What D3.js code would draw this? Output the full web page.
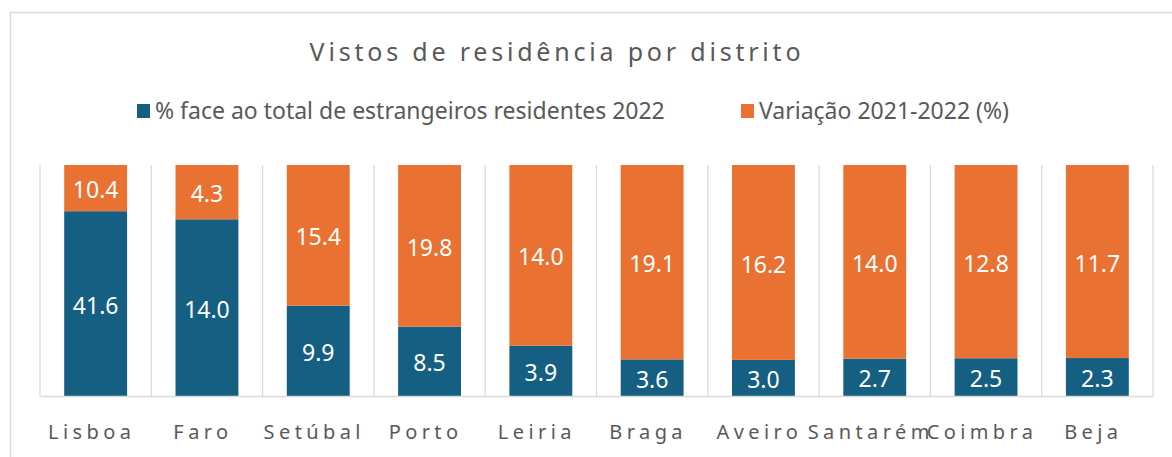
<!DOCTYPE html>
<html>
<head>
<meta charset="utf-8">
<script src="https://cdn.jsdelivr.net/npm/d3@7"></script>
<style>
  body { margin: 0; background: #fff; }
  svg { display: block; font-family: "Noto Sans", "Open Sans", sans-serif; }
</style>
</head>
<body>
<script>
// dados
const districts = ["Lisboa", "Faro", "Setúbal", "Porto", "Leiria", "Braga", "Aveiro", "Santarém", "Coimbra", "Beja"];
const shareTotal = [41.6, 14.0, 9.9, 8.5, 3.9, 3.6, 3.0, 2.7, 2.5, 2.3];
const variation = [10.4, 4.3, 15.4, 19.8, 14.0, 19.1, 16.2, 14.0, 12.8, 11.7];
const seriesNames = ["% face ao total de estrangeiros residentes 2022", "Variação 2021-2022 (%)"];
const colors = ["#156082", "#E97132"];

const width = 1172, height = 457;
const margin = { top: 165, right: 19, bottom: 61, left: 40 };

const rows = districts.map((d, i) => ({ district: d, a: shareTotal[i], b: variation[i] }));
const stacked = d3.stack().keys(["a", "b"]).offset(d3.stackOffsetExpand)(rows);

const svg = d3.select("body").append("svg").attr("width", width).attr("height", height);

// moldura
svg.append("rect")
  .attr("x", 10.5).attr("y", 12.5)
  .attr("width", 1200).attr("height", 600)
  .attr("fill", "none").attr("stroke", "#d9d9d9").attr("stroke-width", 1.5);

const x = d3.scaleBand()
  .domain(districts)
  .range([margin.left, width - margin.right])
  .paddingInner(0.435).paddingOuter(0.2175);

const y = d3.scaleLinear().domain([0, 1]).range([height - margin.bottom, margin.top]);

// linhas verticais entre categorias
const bounds = d3.range(districts.length + 1).map((i) => margin.left + i * (width - margin.left - margin.right) / districts.length);
svg.append("g").selectAll("line")
  .data(bounds)
  .enter().append("line")
  .attr("x1", (d) => d).attr("x2", (d) => d)
  .attr("y1", y(1)).attr("y2", y(0))
  .attr("stroke", "#d9d9d9").attr("stroke-width", 1.2);

// barras
const layer = svg.append("g").selectAll("g")
  .data(stacked)
  .enter().append("g")
  .attr("fill", (d, i) => colors[i]);

layer.selectAll("rect")
  .data((d) => d)
  .enter().append("rect")
  .attr("x", (d) => x(d.data.district))
  .attr("width", x.bandwidth())
  .attr("y", (d) => y(d[1]))
  .attr("height", (d) => y(d[0]) - y(d[1]));

// rótulos de dados
layer.selectAll("text")
  .data((d) => d.map((v) => ({ v, key: d.key })))
  .enter().append("text")
  .attr("x", (d) => x(d.v.data.district) + x.bandwidth() / 2)
  .attr("y", (d) => (y(d.v[0]) + y(d.v[1])) / 2)
  .attr("dy", "0.44em")
  .attr("text-anchor", "middle")
  .attr("fill", "#fff")
  .style("font-size", "23px")
  .text((d) => d3.format(".1f")(d.v.data[d.key]));

// eixo x
const xAxis = svg.append("g")
  .attr("transform", `translate(0,${y(0)})`)
  .call(d3.axisBottom(x).tickSize(0).tickPadding(29));
xAxis.select(".domain").attr("stroke", "#d9d9d9").attr("stroke-width", 1.5);
xAxis.selectAll("text")
  .attr("fill", "#595959")
  .attr("dx", -4)
  .style("font-size", "20px")
  .style("letter-spacing", "4.4px")
  .style("font-family", "'Noto Sans', sans-serif");

// título
svg.append("text")
  .attr("x", 557).attr("y", 61)
  .attr("text-anchor", "middle")
  .attr("fill", "#595959")
  .style("font-size", "25px")
  .style("letter-spacing", "3.8px")
  .text("Vistos de residência por distrito");

// legenda
const legendX = [137, 741];
const legend = svg.append("g").selectAll("g")
  .data(seriesNames)
  .enter().append("g")
  .attr("transform", (d, i) => `translate(${legendX[i]},104)`);
legend.append("rect").attr("width", 13).attr("height", 14).attr("fill", (d, i) => colors[i]);
legend.append("text")
  .attr("x", 18).attr("y", 15)
  .attr("fill", "#595959")
  .style("font-size", "23px")
  .text((d) => d);
</script>
</body>
</html>
